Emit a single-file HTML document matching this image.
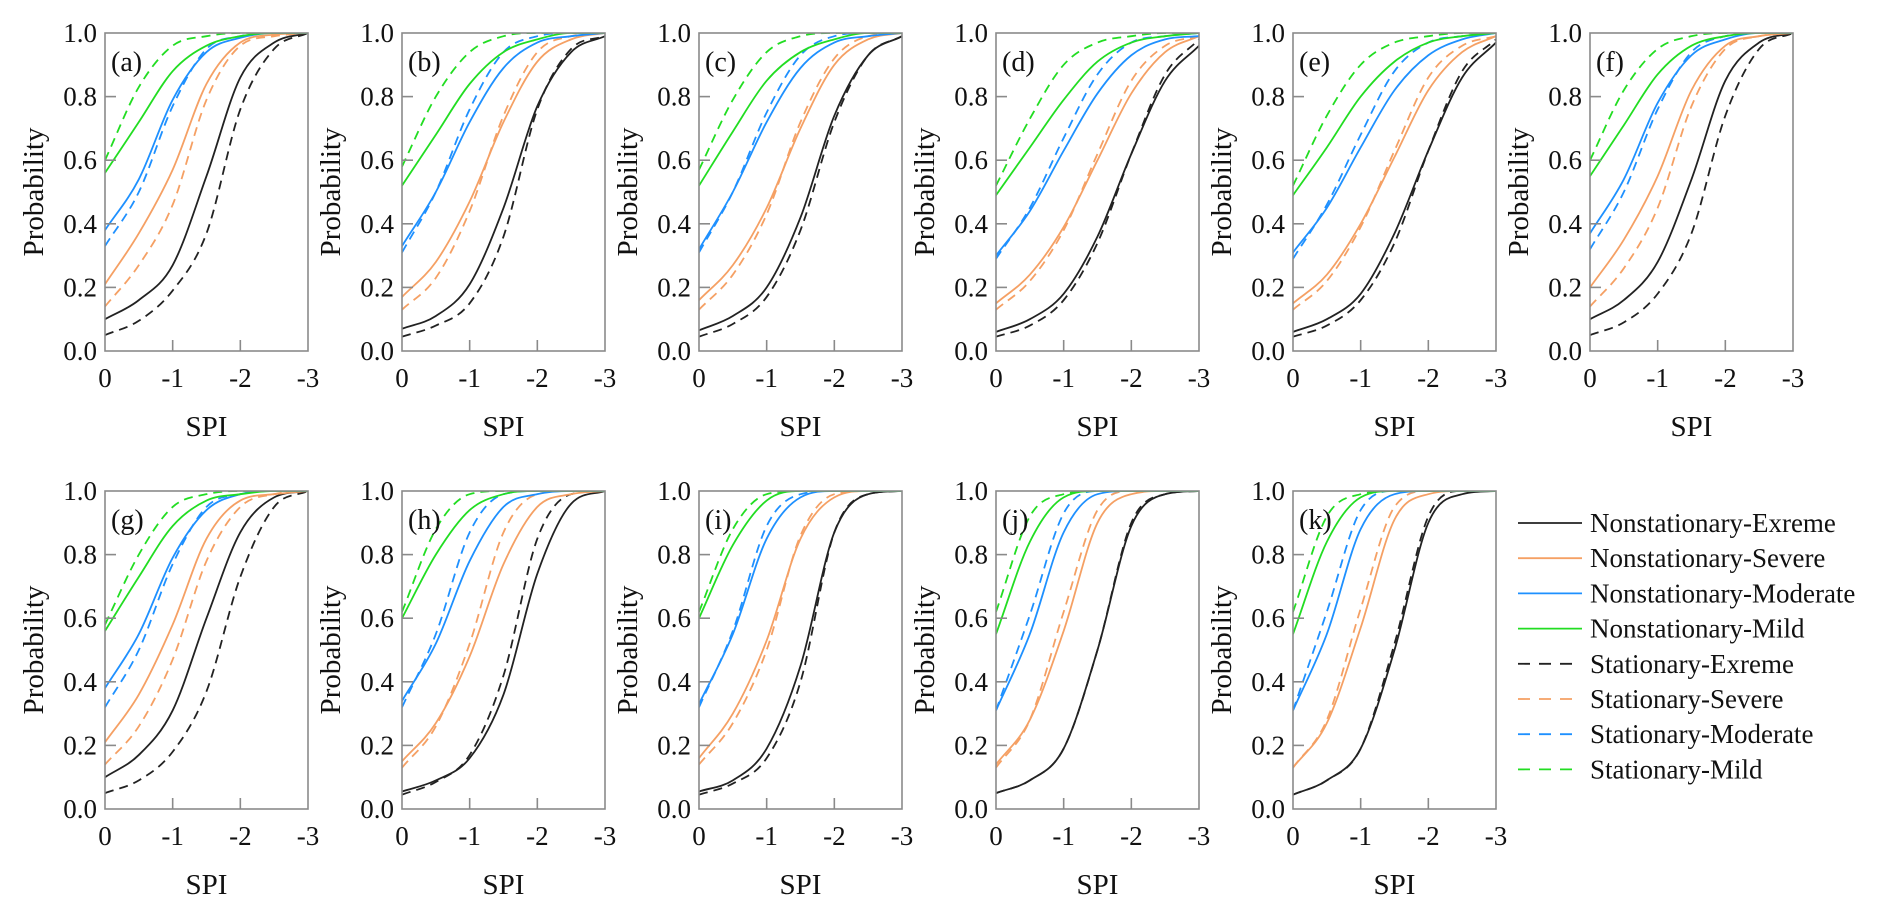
<!DOCTYPE html>
<html><head><meta charset="utf-8"><style>
html,body{margin:0;padding:0;background:#fff;}
svg{display:block;}
svg text{font-family:"Liberation Serif","Times New Roman",serif;}
</style></head><body>
<svg id="chart" width="1892" height="913" viewBox="0 0 1892 913" xmlns="http://www.w3.org/2000/svg" font-family="Liberation Serif, serif"></svg>
<script>
const spiValues=[0,-0.5,-1,-1.5,-2,-2.5,-3];
const xTickLabels=["0","-1","-2","-3"];
const xTickValues=[0,-1,-2,-3];
const yTickValues=[0,0.2,0.4,0.6,0.8,1.0];
const yTickLabels=["0.0","0.2","0.4","0.6","0.8","1.0"];
const panelLabels=["(a)","(b)","(c)","(d)","(e)","(f)","(g)","(h)","(i)","(j)","(k)"];
const seriesNames=["Nonstationary-Exreme","Nonstationary-Severe","Nonstationary-Moderate","Nonstationary-Mild","Stationary-Exreme","Stationary-Severe","Stationary-Moderate","Stationary-Mild"];
const seriesColors=["#222222","#f5a064","#1e90ff","#22dd22","#222222","#f5a064","#1e90ff","#22dd22"];
const seriesDashed=[false,false,false,false,true,true,true,true];
// order per panel: NS-Ext, NS-Sev, NS-Mod, NS-Mild, S-Ext, S-Sev, S-Mod, S-Mild
const panelA=[[0.10,0.16,0.27,0.55,0.86,0.97,1],[0.21,0.37,0.57,0.84,0.97,0.995,1],[0.38,0.54,0.79,0.94,0.985,1,1],[0.56,0.72,0.88,0.96,0.99,1,1],[0.05,0.095,0.19,0.37,0.76,0.95,1],[0.14,0.27,0.46,0.79,0.96,0.99,1],[0.33,0.5,0.77,0.95,0.99,1,1],[0.6,0.83,0.96,0.99,1,1,1]];
const panelB=[[0.07,0.11,0.21,0.45,0.77,0.94,0.99],[0.17,0.28,0.47,0.72,0.91,0.98,1],[0.33,0.5,0.72,0.89,0.97,0.99,1],[0.52,0.68,0.84,0.94,0.98,1,1],[0.045,0.08,0.15,0.36,0.76,0.95,0.99],[0.13,0.23,0.44,0.74,0.94,0.99,1],[0.31,0.5,0.76,0.94,0.99,1,1],[0.58,0.8,0.94,0.99,1,1,1]];
const panelC=[[0.065,0.11,0.2,0.42,0.74,0.93,0.99],[0.16,0.27,0.45,0.7,0.9,0.98,1],[0.32,0.5,0.72,0.89,0.97,0.99,1],[0.52,0.69,0.85,0.94,0.98,1,1],[0.045,0.085,0.17,0.38,0.72,0.93,0.99],[0.13,0.24,0.43,0.72,0.92,0.99,1],[0.31,0.5,0.75,0.93,0.99,1,1],[0.57,0.79,0.94,0.99,1,1,1]];
const panelD=[[0.06,0.1,0.18,0.36,0.62,0.85,0.96],[0.15,0.24,0.39,0.6,0.81,0.94,0.99],[0.3,0.44,0.63,0.81,0.93,0.98,0.99],[0.49,0.64,0.79,0.91,0.97,0.99,1],[0.045,0.08,0.16,0.34,0.62,0.87,0.98],[0.13,0.22,0.38,0.62,0.85,0.96,0.99],[0.29,0.45,0.67,0.87,0.97,0.99,1],[0.52,0.73,0.9,0.97,0.99,1,1]];
const panelE=[[0.06,0.1,0.18,0.37,0.63,0.86,0.97],[0.15,0.24,0.4,0.61,0.82,0.94,0.99],[0.31,0.45,0.64,0.82,0.93,0.98,1],[0.49,0.64,0.8,0.91,0.97,0.99,1],[0.045,0.08,0.16,0.34,0.63,0.88,0.98],[0.13,0.22,0.39,0.63,0.86,0.96,0.99],[0.29,0.46,0.68,0.88,0.97,0.99,1],[0.52,0.74,0.9,0.97,0.99,1,1]];
const panelF=[[0.1,0.16,0.28,0.54,0.85,0.97,1],[0.2,0.35,0.55,0.82,0.96,0.99,1],[0.37,0.54,0.78,0.93,0.98,1,1],[0.55,0.71,0.87,0.96,0.99,1,1],[0.05,0.09,0.18,0.37,0.74,0.95,1],[0.14,0.26,0.45,0.77,0.95,0.99,1],[0.32,0.5,0.76,0.94,0.99,1,1],[0.6,0.82,0.95,0.99,1,1,1]];
const panelG=[[0.1,0.17,0.31,0.6,0.87,0.98,1],[0.21,0.36,0.58,0.85,0.97,0.99,1],[0.38,0.55,0.79,0.94,0.99,1,1],[0.56,0.73,0.89,0.97,0.99,1,1],[0.05,0.09,0.18,0.37,0.73,0.95,1],[0.14,0.26,0.47,0.78,0.95,0.99,1],[0.32,0.5,0.77,0.95,0.99,1,1],[0.58,0.8,0.95,0.99,1,1,1]];
const panelH=[[0.055,0.09,0.16,0.36,0.74,0.96,1],[0.15,0.27,0.48,0.77,0.95,0.99,1],[0.34,0.52,0.78,0.95,0.99,1,1],[0.6,0.8,0.94,0.99,1,1,1],[0.045,0.085,0.17,0.42,0.85,0.99,1],[0.13,0.26,0.52,0.87,0.99,1,1],[0.32,0.55,0.87,0.99,1,1,1],[0.62,0.88,0.99,1,1,1,1]];
const panelI=[[0.055,0.09,0.19,0.45,0.87,0.99,1],[0.16,0.3,0.53,0.85,0.98,1,1],[0.33,0.55,0.85,0.98,1,1,1],[0.6,0.83,0.97,1,1,1,1],[0.045,0.08,0.16,0.4,0.87,0.99,1],[0.14,0.27,0.5,0.86,0.99,1,1],[0.32,0.56,0.89,0.99,1,1,1],[0.62,0.88,0.99,1,1,1,1]];
const panelJ=[[0.05,0.09,0.19,0.5,0.89,0.99,1],[0.14,0.28,0.56,0.9,0.99,1,1],[0.31,0.55,0.87,0.99,1,1,1],[0.55,0.84,0.98,1,1,1,1],[0.05,0.09,0.19,0.5,0.9,0.99,1],[0.13,0.28,0.62,0.94,1,1,1],[0.31,0.61,0.93,1,1,1,1],[0.62,0.92,0.99,1,1,1,1]];
const panelK=[[0.045,0.09,0.19,0.5,0.9,0.99,1],[0.13,0.27,0.57,0.91,0.99,1,1],[0.31,0.55,0.88,0.99,1,1,1],[0.55,0.84,0.98,1,1,1,1],[0.045,0.09,0.19,0.52,0.92,1,1],[0.13,0.28,0.63,0.95,1,1,1],[0.31,0.62,0.94,1,1,1,1],[0.62,0.92,0.99,1,1,1,1]];
const panels=[panelA,panelB,panelC,panelD,panelE,panelF,panelG,panelH,panelI,panelJ,panelK];

const NS="http://www.w3.org/2000/svg";
const svg=document.getElementById('chart');
const FONT="Liberation Serif, Times New Roman, serif";
function mk(tag,attrs,parent){const e=document.createElementNS(NS,tag);for(const k in attrs)e.setAttribute(k,attrs[k]);if(tag==='text')e.setAttribute('font-family',FONT);(parent||svg).appendChild(e);return e;}
const PW=203,PH=318,DX=297;
function monotone(xs,ys){
  const n=xs.length,d=[],m=[];
  for(let i=0;i<n-1;i++)d.push((ys[i+1]-ys[i])/(xs[i+1]-xs[i]));
  m[0]=d[0];m[n-1]=d[n-2];
  for(let i=1;i<n-1;i++){m[i]=(d[i-1]*d[i]<=0)?0:(d[i-1]+d[i])/2;}
  for(let i=0;i<n-1;i++){if(d[i]===0){m[i]=0;m[i+1]=0;continue;}const a=m[i]/d[i],b=m[i+1]/d[i],s=a*a+b*b;if(s>9){const t=3/Math.sqrt(s);m[i]=t*a*d[i];m[i+1]=t*b*d[i];}}
  let p="M"+xs[0].toFixed(2)+","+ys[0].toFixed(2);
  for(let i=0;i<n-1;i++){const h=xs[i+1]-xs[i];p+=" C"+(xs[i]+h/3).toFixed(2)+","+(ys[i]+m[i]*h/3).toFixed(2)+" "+(xs[i+1]-h/3).toFixed(2)+","+(ys[i+1]-m[i+1]*h/3).toFixed(2)+" "+xs[i+1].toFixed(2)+","+ys[i+1].toFixed(2);}
  return p;
}
panels.forEach((data,pi)=>{
  const row=pi<6?0:1,col=pi<6?pi:pi-6;
  const L=105+col*DX,T=row===0?33:491,B=T+PH,R=L+PW;
  const xs=v=>L+(v/-3)*PW, ys=v=>B-v*PH;
  const g=mk('g',{});
  
  
  const cp=mk('clipPath',{id:'cp'+pi},g);mk('rect',{x:L,y:T,width:PW,height:PH},cp);
  const lines=mk('g',{'clip-path':'url(#cp'+pi+')'},g);
  [4,5,6,7,0,1,2,3].forEach(si=>{
    const px=spiValues.map(xs),py=data[si].map(ys);
    const p=mk('path',{d:monotone(px,py),fill:'none',stroke:seriesColors[si],'stroke-width':1.8,'stroke-dasharray':seriesDashed[si]?'9,6':'none'},lines);
    
    
  });
  const fr=mk('rect',{x:L,y:T,width:PW,height:PH,fill:'none',stroke:'#8a8a8a','stroke-width':1.6},g);
  
  
  yTickValues.forEach((v,i)=>{
    if(v>0&&v<1)mk('line',{x1:L,x2:L+11,y1:ys(v),y2:ys(v),stroke:'#8a8a8a','stroke-width':1.6},g);
    const t=mk('text',{x:L-8,y:ys(v)+9,'text-anchor':'end','font-size':27,fill:'#111'},g);t.textContent=yTickLabels[i];
    
    
  });
  xTickValues.forEach((v,i)=>{
    if(v<0&&v>-3)mk('line',{x1:xs(v),x2:xs(v),y1:B,y2:B-11,stroke:'#8a8a8a','stroke-width':1.6},g);
    const t=mk('text',{x:xs(v),y:B+36,'text-anchor':'middle','font-size':27,fill:'#111'},g);t.textContent=xTickLabels[i];
    
    
  });
  const xl=mk('text',{x:L+PW/2,y:B+85,'text-anchor':'middle','font-size':29,fill:'#111'},g);xl.textContent='SPI';
  
  
  const yl=mk('text',{x:0,y:0,'text-anchor':'middle','font-size':29,fill:'#111',transform:'translate('+(L-62)+','+(T+PH/2)+') rotate(-90)'},g);yl.textContent='Probability';
  
  
  const pl=mk('text',{x:L+6,y:T+38,'font-size':28,fill:'#111'},g);pl.textContent=panelLabels[pi];
  
  
});
const lg=mk('g',{});


seriesNames.forEach((n,i)=>{
  const y=523+i*35.2;
  const ln=mk('line',{x1:1518,x2:seriesDashed[i]?1572:1582,y1:y,y2:y,stroke:seriesColors[i],'stroke-width':1.8,'stroke-dasharray':seriesDashed[i]?'12,9':'none'},lg);
  
  
  const t=mk('text',{x:1590,y:y+9,'font-size':27,fill:'#111'},lg);t.textContent=n;
  
  
});
</script>
</body></html>
